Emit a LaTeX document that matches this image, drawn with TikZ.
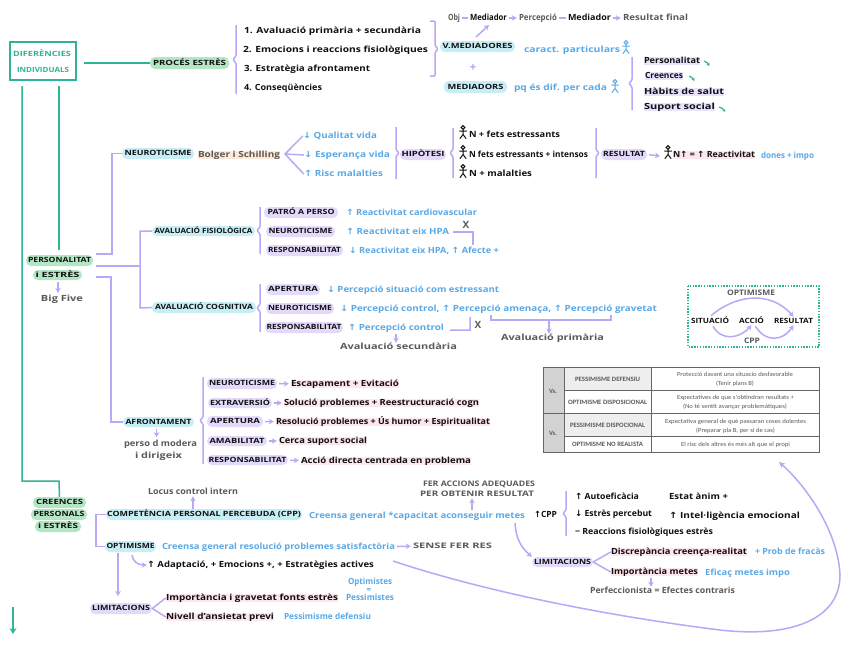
\documentclass[tikz,border=0pt]{standalone}
\usepackage{graphicx}
\usepackage{fontspec}
\setmainfont{Open Sans}
\newfontfamily\arrf{DejaVu Sans}
\newfontfamily\tabf{Carlito}
\usetikzlibrary{arrows.meta,calc}
\definecolor{purp}{HTML}{B9A7F8}
\definecolor{teal2}{HTML}{2DB596}
\definecolor{blue2}{HTML}{5AA9E6}
\definecolor{pcyan}{HTML}{C8EEF5}
\definecolor{pgreen}{HTML}{B4E5C4}
\definecolor{ppurp}{HTML}{E2D9FB}
\definecolor{gray2}{HTML}{5A5A5A}
\definecolor{ink}{HTML}{111111}
\definecolor{hpink}{HTML}{FDE6EC}
\definecolor{horange}{HTML}{FDE9D6}
\definecolor{hpurp}{HTML}{E9E2FC}
\definecolor{tgray}{HTML}{D2D2D2}
\definecolor{tlight}{HTML}{EEEEEE}
\definecolor{tline}{HTML}{666666}
\newlength\fitl
\newcommand\fitw[2]{\settowidth\fitl{#2}\pgfmathsetmacro\fitr{#1/\fitl}\scalebox{\fitr}[1]{#2}}
\newcommand\ua{{\arrf ↑}}
\newcommand\da{{\arrf ↓}}
% style, name, x1, x2, y, text
\newcommand\tx[6]{\node[inner xsep=0pt,inner ysep=0.5pt,text height=5.6pt,text depth=1.6pt,#1] (#2) at ({(#3+#4)/2},#5) {\pgfmathsetmacro\fitq{#4-#3}\fitw{\fitq}{#6}};}
% fill, name, x1, x2, y1, y2, text width, text
\newcommand\pill[8]{\node[inner sep=0pt,rounded corners=5pt,fill=#1,bk cap,minimum width={#4pt-#3pt},minimum height={#6pt-#5pt},text height=5.2pt,text depth=0.8pt] (#2) at ({(#3+#4)/2},{(#5+#6)/2}) {\fitw{#7}{#8}};}
\newcommand\stick[3]{\draw[#3,line width=1pt,line cap=round] (#1,#2-4.5) circle (1.9) (#1,#2-2.6) -- (#1,#2+2.5) (#1-3.5,#2-1) -- (#1+3.5,#2-1) (#1-3,#2+6.5) -- (#1,#2+2.5) -- (#1+3,#2+6.5);}
% x, y1, y2, dir
\newcommand\brc[4]{\draw[pl,rounded corners=1pt] (#1,#2) -- (#1,{(#2+#3)/2-3.5}) -- ({#1+#4*3},{(#2+#3)/2}) -- (#1,{(#2+#3)/2+3.5}) -- (#1,#3);}
\tikzset{
  bk/.style={font=\fontsize{8.5}{10}\selectfont\bfseries,text=ink},
  bk cap/.style={font=\fontsize{7.2}{9}\selectfont\bfseries,text=ink},
  bl/.style={font=\fontsize{8.5}{10}\selectfont\bfseries,text=blue2},
  gr/.style={font=\fontsize{8.5}{10}\selectfont\bfseries,text=gray2},
  gc/.style={font=\fontsize{7.6}{9}\selectfont\bfseries,text=gray2},
  tc/.style={font=\fontsize{7.2}{9}\selectfont\bfseries,text=teal2},
  tb/.style={font=\fontsize{6.2}{7}\selectfont\tabf,text=gray2},
  tbh/.style={font=\fontsize{6.6}{7}\selectfont\tabf\bfseries,text=gray2},
  hp/.style={fill=hpink},
  ho/.style={fill=horange},
  hu/.style={fill=hpurp},
  pl/.style={draw=purp,line width=1.5pt},
  pa/.style={pl,-{Stealth[length=5pt,width=5.5pt]},shorten <=2pt,shorten >=2pt},
  pb/.style={pl,-{Stealth[length=5pt,width=5.5pt]}},
  tl/.style={draw=teal2,line width=1.5pt},
  tick/.style={draw=teal2,line width=1.2pt,-{Stealth[length=3pt,width=3.5pt]}},
}
\begin{document}
\begin{tikzpicture}[x=1pt,y=-1pt]
\useasboundingbox[fill=white] (0,0) rectangle (848,646);

% ---- head
\node[draw=teal2,line width=2pt,minimum width=66pt,minimum height=38pt,inner sep=0pt] (dif) at (42.5,61) {};
\tx{tc}{dif1}{13}{71}{54}{DIFERÈNCIES}
\tx{tc}{dif2}{17}{69}{70}{INDIVIDUALS}
\pill{pgreen}{proc}{150}{229}{57}{69}{73}{PROCÉS ESTRÈS}
\coordinate (difr) at (84,63);
\draw[tl] (difr) -- (proc.west);
\coordinate (difa) at (22,86);
\coordinate (difb) at (59,86);
\brc{236}{25}{94}{-1}
\tx{bk}{e1}{244}{421}{31}{1. Avaluació primària + secundària}
\tx{bk}{e2}{243}{428}{50}{2. Emocions i reaccions fisiològiques}
\tx{bk}{e3}{244}{370}{69}{3. Estratègia afrontament}
\tx{bk}{e4}{244}{322}{88}{4. Conseqüències}
\draw[pl,rounded corners=1pt] (430,21) -- (435,21) -- (435,45.5) -- (438,49) -- (435,52.5) -- (435,76) -- (430,76);

\tx{gr}{ob}{448}{460}{18}{Obj}
\tx{bk}{me1}{470}{507}{18}{Mediador}
\tx{gr}{per}{519}{557}{18}{Percepció}
\tx{bk}{me2}{568}{611}{18}{Mediador}
\tx{gr}{res}{623}{688}{18}{Resultat final}
\draw[pl,shorten <=2pt,shorten >=2pt] (ob) -- (me1);
\draw[pa] (me1) -- (per);
\draw[pl,shorten <=2pt,shorten >=2pt] (per) -- (me2);
\draw[pa] (me2) -- (res);
\pill{pcyan}{vm}{440}{515}{41}{52}{70}{V.MEDIADORES}
\coordinate (vmt) at (476,37);
\coordinate (met) at (489,25);
\draw[pb] (vmt) -- (met);
\tx{bl}{car}{524}{620}{50}{caract. particulars}
\stick{626}{47}{blue2}
\node[font=\fontsize{12}{12}\selectfont\bfseries,text=purp,inner sep=0pt] (plus) at (473,68) {+};
\pill{pcyan}{med}{444}{507}{81}{93}{56}{MEDIADORS}
\tx{bl}{pq}{514}{607}{88}{pq és dif. per cada}
\stick{615}{86}{blue2}
\brc{632}{57}{110}{-1}
\tx{bk,hu}{m1}{644}{700}{61}{Personalitat}
\tx{bk,hu}{m2}{645}{683}{76}{Creences}
\tx{bk,hu}{m3}{644}{724}{92}{Hàbits de salut}
\tx{bk,hu}{m4}{644}{715}{107}{Suport social}
\draw[tick] (m1.east) ++(4,0) to[bend left=20] ++(5,5);
\draw[tick] (m2.east) ++(6,0) to[bend left=20] ++(5,5);
\draw[tick] (m4.east) ++(4,0) to[bend left=20] ++(6,5);

% ---- personalitat
\pill{pgreen}{pe1}{26}{93}{255}{266}{63}{PERSONALITAT}
\pill{pgreen}{pe2}{33}{82}{270}{280}{44}{i ESTRÈS}
\draw[tl] (difb) -- (59,250);
\tx{gr}{big}{41}{83}{299}{Big Five}
\coordinate (pa) at (58,282);
\coordinate (pb) at (58,293);
\draw[pb] (pa) -- (pb);
\coordinate (p1) at (96,254);
\coordinate (p2) at (96,266);
\coordinate (p3) at (96,277);

\pill{pcyan}{neu}{122}{194}{148}{159}{67}{NEUROTICISME}
\draw[pl] (p1) -- (112,254) |- (neu.west);
\tx{gr,ho}{bol}{198}{280}{155}{Bolger i Schilling}
\tx{bl}{q1}{303}{377}{136}{\da{} Qualitat vida}
\tx{bl}{q2}{304}{390}{155}{\da{} Esperança vida}
\tx{bl}{q3}{304}{383}{174}{\ua{} Risc malalties}
\coordinate (ap1) at (285,154);
\draw[pl,line join=round] (q1.west) -- (ap1) -- (q2.west) (ap1) -- (q3.west);
\brc{396}{127}{179}{1}
\pill{ppurp}{hip}{400}{446}{149}{160}{43}{HIPÒTESI}
\brc{453}{128}{178}{-1}
\stick{463}{132}{ink}
\stick{463}{152}{ink}
\stick{463}{171}{ink}
\tx{bk}{h1}{469}{560}{135}{N + fets estressants}
\tx{bk}{h2}{469}{588}{155}{N fets estressants + intensos}
\tx{bk}{h3}{469}{532}{174}{N + malalties}
\brc{596}{128}{178}{1}
\pill{ppurp}{rs}{601}{647}{149}{160}{42}{RESULTAT}
\stick{668}{152}{ink}
\coordinate (rsa) at (660,156);
\draw[pa,shorten >=0pt] (rs.east) -- (rsa);
\tx{bk,hp}{rs2}{673}{755}{155}{N\ua{} = \ua{} Reactivitat}
\tx{bl}{rs3}{761}{814}{156}{dones + impo}

\pill{pcyan}{af}{152}{255}{226}{236}{98}{AVALUACIÓ FISIOLÒGICA}
\pill{pcyan}{ac}{152}{256}{302}{313}{98}{AVALUACIÓ COGNITIVA}
\draw[pl] (af.west) -- (140,231) -- (140,308) -- (ac.west);
\draw[pl] (p2) -- (140,266);
\brc{260}{207}{254}{-1}
\pill{ppurp}{f1}{264}{338}{207}{218}{67}{PATRÓ A PERSO}
\pill{ppurp}{f2}{266}{335}{226}{237}{64}{NEUROTICISME}
\pill{ppurp}{f3}{266}{343}{245}{256}{73}{RESPONSABILITAT}
\tx{bl}{fa}{346}{477}{213}{\ua{} Reactivitat cardiovascular}
\tx{bl}{fb}{346}{449}{232}{\ua{} Reactivitat eix HPA}
\tx{bl}{fc}{349}{499}{251}{\da{} Reactivitat eix HPA, \ua{} Afecte +}
\coordinate (fcd) at (473,245);
\draw[pl,shorten <=4pt] (fb.east) -| (fcd);
\node[font=\fontsize{10}{10}\selectfont\bfseries,text=gray2,inner sep=0pt] (x1) at (466,225) {X};

\brc{260}{284}{332}{-1}
\pill{ppurp}{c1}{266}{320}{284}{295}{50}{APERTURA}
\pill{ppurp}{c2}{266}{334}{303}{314}{64}{NEUROTICISME}
\pill{ppurp}{c3}{265}{343}{322}{333}{75}{RESPONSABILITAT}
\tx{bl}{ca}{327}{499}{290}{\da{} Percepció situació com estressant}
\tx{bl}{cb}{340}{657}{309}{\da{} Percepció control, \ua{} Percepció amenaça, \ua{} Percepció gravetat}
\tx{bl}{cc}{348}{444}{328}{\ua{} Percepció control}
\coordinate (ccu) at (470,317);
\draw[pl,shorten <=6pt] (cc.east) ++(0,2) -- ++(26,0) -- (ccu);
\node[font=\fontsize{10}{10}\selectfont\bfseries,text=gray2,inner sep=0pt] (x2) at (478,325) {X};
\tx{gr}{as}{340}{457}{347}{Avaluació secundària}
\coordinate (ccb) at (396,334);
\draw[pb] (ccb) -- (as.north -| ccb);
\tx{gr}{ap}{501}{604}{338}{Avaluació primària}
\coordinate (bl) at (491,315);
\coordinate (br) at (611,315);
\draw[pl] (bl) -- (491,320) -- (611,320) -- (br);
\coordinate (bm) at (549,320);
\draw[pb] (bm) -- (ap.north -| bm);

% ---- optimisme box
\draw[teal2,line width=1.3pt,dash pattern=on 1.4pt off 1.4pt] (688,286) rectangle (819,347);
\tx{gc}{oo}{727}{775}{293}{OPTIMISME}
\tx{bk cap}{o1}{691}{729}{321}{SITUACIÓ}
\tx{bk cap}{o2}{739}{764}{321}{ACCIÓ}
\tx{bk cap}{o3}{774}{813}{321}{RESULTAT}
\tx{gc}{oc}{744}{760}{341}{CPP}
\draw[pb] (o1.north) ++(1,-1) .. controls (735,295) and (770,290) .. (o3.north);
\draw[pb] (o1.south) ++(3,1) .. controls (722,342) and (740,338) .. (o2.south);
\draw[pb] (o2.south) ++(4,1) .. controls (765,342) and (782,342) .. (o3.south);

% ---- table
\fill[tgray] (543,367) rectangle (564,452);
\fill[tlight] (564,367) rectangle (651,390);
\fill[tlight] (564,413) rectangle (651,436);
\draw[tline,line width=0.8pt] (543,367) rectangle (819,452);
\draw[tline,line width=0.8pt] (564,367) -- (564,452) (651,367) -- (651,452) (564,390) -- (819,390) (543,413) -- (819,413) (564,436) -- (819,436);
\tx{tbh}{v1}{549}{557}{391}{Vs.}
\tx{tbh}{v2}{549}{557}{433}{Vs.}
\tx{tbh}{t1}{575}{640}{379}{PESSIMISME DEFENSIU}
\tx{tbh}{t2}{568}{647}{402}{OPTIMISME DISPOSICIONAL}
\tx{tbh}{t3}{570}{645}{425}{PESSIMISME DISPOCIONAL}
\tx{tbh}{t4}{572}{643}{444}{OPTIMISME NO REALISTA}
\tx{tb}{d1a}{677}{793}{374}{Protecció davant una situacio desfavorable}
\tx{tb}{d1b}{716}{754}{383}{(Tenir plans B)}
\tx{tb}{d2a}{677}{794}{397}{Expectatives de que s'obtindran resultats +}
\tx{tb}{d2b}{683}{787}{406}{(No té sentit avançar problemàtiques)}
\tx{tb}{d3a}{665}{806}{421}{Expectativa general de què passaran coses dolentes}
\tx{tb}{d3b}{696}{775}{430}{(Preparar pla B, per si de cas)}
\tx{tb}{d4}{681}{790}{444}{El risc dels altres és més alt que el propi}

% ---- afrontament
\pill{pcyan}{afr}{123}{194}{417}{427}{66}{AFRONTAMENT}
\draw[pl] (p3) -- (111,277) |- (afr.west);
\tx{gr}{d5}{124}{197}{444}{perso d modera}
\tx{gr}{d6}{135}{182}{456}{i dirigeix}
\draw[pb] (afr.south -| d6) ++(-2,2) -- ++(0,8);
\brc{203}{377}{464}{-1}
\pill{ppurp}{a1}{207}{277}{378}{389}{66}{NEUROTICISME}
\pill{ppurp}{a2}{208}{272}{398}{408}{60}{EXTRAVERSIÓ}
\pill{ppurp}{a3}{207}{263}{416}{427}{50}{APERTURA}
\pill{ppurp}{a4}{207}{267}{436}{446}{55}{AMABILITAT}
\pill{ppurp}{a5}{207}{288}{455}{465}{78}{RESPONSABILITAT}
\tx{bk,hp}{b1}{291}{399}{384}{Escapament + Evitació}
\tx{bk,hp}{b2}{284}{479}{403}{Solució problemes + Reestructuració cogn}
\tx{bk,hp}{b3}{276}{490}{422}{Resolució problemes + Ús humor + Espiritualitat}
\tx{bk,hp}{b4}{279}{367}{441}{Cerca suport social}
\tx{bk,hp}{b5}{301}{471}{461}{Acció directa centrada en problema}
\draw[pa] (a1) -- (b1);
\draw[pa] (a2) -- (b2);
\draw[pa] (a3) -- (b3);
\draw[pa] (a4) -- (b4);
\draw[pa] (a5) -- (b5);

% ---- creences
\pill{pgreen}{cr1}{33}{86}{497}{508}{47}{CREENCES}
\pill{pgreen}{cr2}{31}{87}{509}{520}{51}{PERSONALS}
\pill{pgreen}{cr3}{35}{81}{521}{532}{40}{i ESTRÈS}
\draw[tl] (difa) -- (22,481) -- (59,481) -- (cr1.north);
\tx{gr}{loc}{148}{238}{492}{Locus control intern}
\pill{pcyan}{cpp}{106}{302}{509}{520}{194}{COMPETÈNCIA PERSONAL PERCEBUDA (CPP)}
\coordinate (cpt) at (193,509);
\draw[pb] (cpt) -- (loc.south -| cpt);
\tx{bl}{cg}{309}{525}{516}{Creensa general *capacitat aconseguir metes}
\tx{gc}{fe1}{423}{535}{484}{FER ACCIONS ADEQUADES}
\tx{gc}{fe2}{420}{534}{494}{PER OBTENIR RESULTAT}
\coordinate (cgt) at (472,510);
\draw[pb] (cgt) -- (fe2.south -| cgt);
\tx{bk}{ucp}{534}{557}{515}{\ua{}CPP}
\brc{566}{491}{536}{-1}
\tx{bk}{u1}{575}{639}{497}{\ua{} Autoeficàcia}
\tx{bk}{u2}{669}{728}{497}{Estat ànim +}
\tx{bk}{u3}{575}{652}{514}{\da{} Estrès percebut}
\tx{bk}{u4}{669}{800}{516}{\ua{} Intel·ligència emocional}
\tx{bk}{u5}{575}{713}{532}{− Reaccions fisiològiques estrès}
\pill{ppurp}{li2}{532}{593}{557}{567}{57}{LIMITACIONS}
\coordinate (cgc) at (515,523);
\draw[pb] (cgc) .. controls (516,540) and (522,548) .. (li2.north west);
\tx{bk,hp}{l1}{611}{747}{552}{Discrepància creença-realitat}
\tx{bl}{l1b}{755}{825}{552}{+ Prob de fracàs}
\tx{bk,hp}{l2}{611}{698}{572}{Importància metes}
\tx{bl}{l2b}{705}{790}{573}{Eficaç metes impo}
\draw[pl,line join=round] (l1.west) -- (li2.east) -- (l2.west);
\tx{gr}{l3}{590}{735}{591}{Perfeccionista = Efectes contraris}
\coordinate (l2d) at (651,578);
\draw[pb] (l2d) -- (l3.north -| l2d);

\pill{pcyan}{opt}{105}{156}{541}{552}{48}{OPTIMISME}
\draw[pl] (cpp.west) -- (96,514.5) -- (96,546.5) -- (opt.west);
\tx{bl}{og}{162}{395}{547}{Creensa general resolució problemes satisfactòria}
\tx{gc}{sf}{413}{492}{546}{SENSE FER RES}
\draw[pa] (og) -- (sf);
\tx{bk}{oa}{147}{374}{565}{\ua{} Adaptació, + Emocions +, + Estratègies actives}
\coordinate (opc) at (132,555);
\draw[pb] (opc) .. controls (133,561) and (137,565) .. (oa.west);
\pill{ppurp}{li1}{90}{152}{603}{614}{58}{LIMITACIONS}
\coordinate (opd) at (118,553);
\draw[pb] (opd) -- (118,596);
\tx{bk,hp}{i1}{166}{338}{598}{Importància i gravetat fonts estrès}
\tx{bk,hp}{i2}{166}{274}{617}{Nivell d'ansietat previ}
\tx{bl}{i3}{284}{371}{617}{Pessimisme defensiu}
\draw[pl,line join=round] (i1.west) -- (li1.east) -- (i2.west);
\tx{bl}{p5}{348}{392}{582}{Optimistes}
\node[font=\fontsize{8}{8}\selectfont\bfseries,text=blue2,inner sep=0pt] (eq) at (369,590) {=};
\tx{bl}{p6}{346}{394}{598}{Pessimistes}

% big curve to the table
\coordinate (cv) at (393,561);
\coordinate (ctb) at (779,462);
\draw[pb,-{Stealth[length=6pt,width=6pt]}] (cv) .. controls (480,590) and (600,615) .. (720,630) .. controls (790,638) and (840,620) .. (840,575) .. controls (838,530) and (805,485) .. (ctb);

% down arrow
\coordinate (da1) at (13,607);
\coordinate (da2) at (13,634);
\draw[tl,-{Stealth[length=6pt,width=7pt]}] (da1) -- (da2);
\end{tikzpicture}
\end{document}
